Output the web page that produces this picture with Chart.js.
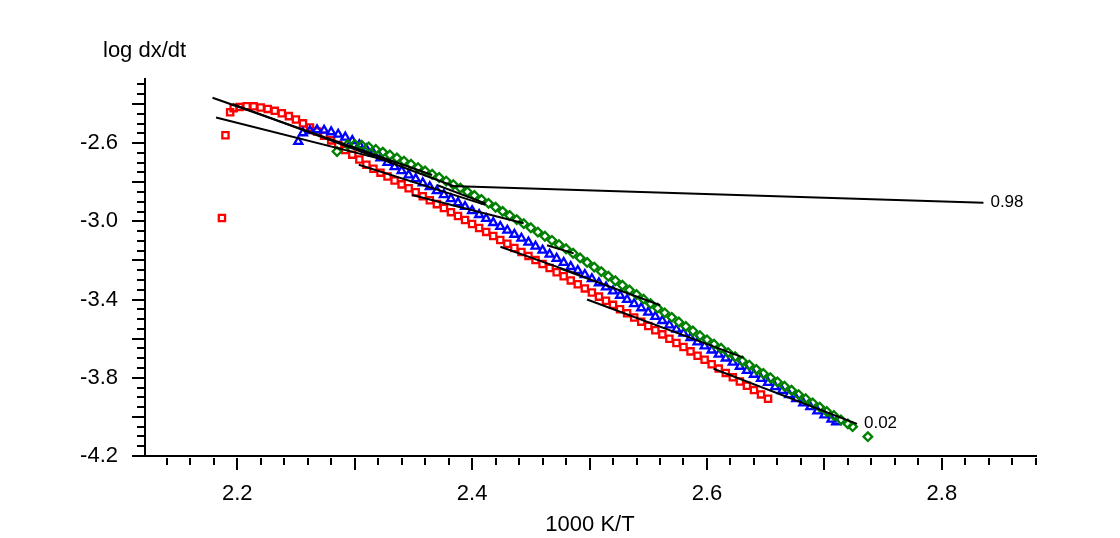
<!DOCTYPE html>
<html>
  <head>
    <title>Friedman Plot</title>
    <script src="https://cdn.jsdelivr.net/npm/chart.js"></script>
    <style>
      body { margin: 0; background: #fff; }
      #wrap { width: 1120px; height: 538px; }
    </style>
  </head>
  <body>
    <div id="wrap"><canvas id="plot"></canvas></div>

    <script>
      // red squares
      var redX = [2.187, 2.190, 2.194, 2.197, 2.202, 2.208, 2.214, 2.220, 2.226, 2.232, 2.238, 2.244, 2.250, 2.256, 2.262, 2.268, 2.274, 2.280, 2.286, 2.292, 2.298, 2.304, 2.310, 2.316, 2.322, 2.328, 2.334, 2.340, 2.346, 2.352, 2.358, 2.364, 2.370, 2.376, 2.382, 2.388, 2.394, 2.400, 2.406, 2.412, 2.418, 2.424, 2.430, 2.436, 2.442, 2.448, 2.454, 2.460, 2.466, 2.472, 2.478, 2.484, 2.490, 2.496, 2.502, 2.508, 2.514, 2.520, 2.526, 2.532, 2.538, 2.544, 2.550, 2.556, 2.562, 2.568, 2.574, 2.580, 2.586, 2.592, 2.598, 2.604, 2.610, 2.616, 2.622, 2.628, 2.634, 2.640, 2.646, 2.652];
      var redY = [-2.983, -2.560, -2.442, -2.421, -2.415, -2.411, -2.412, -2.418, -2.425, -2.435, -2.447, -2.462, -2.479, -2.499, -2.520, -2.541, -2.562, -2.586, -2.610, -2.635, -2.659, -2.684, -2.711, -2.731, -2.751, -2.771, -2.791, -2.811, -2.831, -2.851, -2.872, -2.892, -2.912, -2.932, -2.953, -2.973, -2.993, -3.014, -3.034, -3.054, -3.075, -3.095, -3.115, -3.136, -3.157, -3.177, -3.198, -3.218, -3.239, -3.260, -3.281, -3.302, -3.322, -3.343, -3.364, -3.385, -3.406, -3.427, -3.449, -3.470, -3.492, -3.513, -3.535, -3.557, -3.578, -3.600, -3.622, -3.643, -3.665, -3.687, -3.708, -3.731, -3.753, -3.775, -3.797, -3.819, -3.841, -3.863, -3.885, -3.907];

      // blue triangles
      var blueX = [2.252, 2.256, 2.262, 2.268, 2.274, 2.280, 2.286, 2.292, 2.298, 2.304, 2.310, 2.316, 2.322, 2.328, 2.334, 2.340, 2.346, 2.352, 2.358, 2.364, 2.370, 2.376, 2.382, 2.388, 2.394, 2.400, 2.406, 2.412, 2.418, 2.424, 2.430, 2.436, 2.442, 2.448, 2.454, 2.460, 2.466, 2.472, 2.478, 2.484, 2.490, 2.496, 2.502, 2.508, 2.514, 2.520, 2.526, 2.532, 2.538, 2.544, 2.550, 2.556, 2.562, 2.568, 2.574, 2.580, 2.586, 2.592, 2.598, 2.604, 2.610, 2.616, 2.622, 2.628, 2.634, 2.640, 2.646, 2.652, 2.658, 2.664, 2.670, 2.676, 2.682, 2.688, 2.694, 2.700, 2.706, 2.710];
      var blueY = [-2.592, -2.548, -2.537, -2.532, -2.535, -2.543, -2.555, -2.570, -2.588, -2.609, -2.631, -2.653, -2.676, -2.699, -2.721, -2.742, -2.763, -2.783, -2.804, -2.824, -2.844, -2.864, -2.885, -2.905, -2.925, -2.946, -2.966, -2.986, -3.007, -3.027, -3.046, -3.067, -3.087, -3.107, -3.128, -3.148, -3.169, -3.190, -3.211, -3.232, -3.252, -3.273, -3.294, -3.315, -3.336, -3.357, -3.379, -3.400, -3.422, -3.443, -3.465, -3.487, -3.508, -3.530, -3.552, -3.573, -3.595, -3.617, -3.638, -3.659, -3.680, -3.700, -3.721, -3.742, -3.763, -3.783, -3.804, -3.825, -3.846, -3.866, -3.887, -3.908, -3.929, -3.949, -3.970, -3.991, -4.012, -4.026];

      // green diamonds
      var greenX = [2.285, 2.294, 2.300, 2.306, 2.312, 2.318, 2.324, 2.330, 2.336, 2.342, 2.348, 2.354, 2.360, 2.366, 2.372, 2.378, 2.384, 2.390, 2.396, 2.402, 2.408, 2.414, 2.420, 2.426, 2.432, 2.438, 2.444, 2.450, 2.456, 2.462, 2.468, 2.474, 2.480, 2.486, 2.492, 2.498, 2.504, 2.510, 2.516, 2.522, 2.528, 2.534, 2.540, 2.546, 2.552, 2.558, 2.564, 2.570, 2.576, 2.582, 2.588, 2.594, 2.600, 2.606, 2.612, 2.618, 2.624, 2.630, 2.636, 2.642, 2.648, 2.654, 2.660, 2.666, 2.672, 2.678, 2.684, 2.690, 2.696, 2.702, 2.708, 2.714, 2.720, 2.724, 2.737];
      var greenY = [-2.643, -2.607, -2.607, -2.611, -2.620, -2.632, -2.646, -2.661, -2.676, -2.692, -2.708, -2.725, -2.742, -2.759, -2.776, -2.794, -2.812, -2.830, -2.849, -2.868, -2.888, -2.908, -2.928, -2.949, -2.970, -2.991, -3.012, -3.033, -3.055, -3.076, -3.097, -3.119, -3.140, -3.163, -3.187, -3.210, -3.234, -3.257, -3.281, -3.304, -3.327, -3.351, -3.374, -3.398, -3.421, -3.444, -3.468, -3.491, -3.515, -3.538, -3.561, -3.585, -3.606, -3.628, -3.649, -3.671, -3.692, -3.714, -3.735, -3.757, -3.778, -3.800, -3.821, -3.843, -3.864, -3.886, -3.907, -3.929, -3.950, -3.972, -3.993, -4.015, -4.036, -4.050, -4.101];

      // isoconversional fit lines: [start, end]
      var fitX = [[2.179, 2.366], [2.182, 2.332], [2.3815, 2.8354], [2.196, 2.3841], [2.3035, 2.4113], [2.370, 2.4113], [2.3489, 2.4439], [2.4241, 2.4922], [2.4638, 2.4865], [2.4751, 2.5602], [2.4979, 2.6311], [2.6056, 2.7277]];
      var fitY = [[-2.368, -2.763], [-2.469, -2.696], [-2.819, -2.9046], [-2.399, -2.819], [-2.711, -2.916], [-2.814, -2.908], [-2.865, -3.010], [-3.130, -3.275], [-3.122, -3.164], [-3.241, -3.429], [-3.400, -3.697], [-3.754, -4.036]];
      var fitLabels = ['', '', '0.98', '', '', '', '', '', '', '', '', '0.02'];

      var xTicks = [2.2, 2.4, 2.6, 2.8];
      var yTicks = [-2.6, -3.0, -3.4, -3.8, -4.2];

      function pts(xs, ys) {
        return xs.map(function (x, i) { return { x: x, y: ys[i] }; });
      }

      var datasets = [];
      fitX.forEach(function (xs, i) {
        datasets.push({
          label: 'fit' + i,
          data: pts(xs, fitY[i]),
          showLine: true,
          borderColor: '#000',
          borderWidth: 2,
          pointRadius: 0,
        });
      });
      datasets.push({
        label: 'green', data: pts(greenX, greenY), pointStyle: 'rectRot',
        pointRadius: 4.3, borderColor: '#008000', backgroundColor: 'rgba(0,0,0,0)', borderWidth: 2.3,
      });
      datasets.push({
        label: 'blue', data: pts(blueX, blueY), pointStyle: 'triangle',
        pointRadius: 4.6, borderColor: '#0000ff', backgroundColor: 'rgba(0,0,0,0)', borderWidth: 2.3,
      });
      datasets.push({
        label: 'red', data: pts(redX, redY), pointStyle: 'rect',
        pointRadius: 4.4, borderColor: '#ff0000', backgroundColor: 'rgba(0,0,0,0)', borderWidth: 2.3,
      });

      // axis lines, tick marks, titles and line labels
      var decor = {
        id: 'decor',
        afterDraw: function (chart) {
          var ctx = chart.ctx;
          var xs = chart.scales.x, ys = chart.scales.y;
          ctx.save();
          ctx.strokeStyle = '#000';
          ctx.lineWidth = 2;
          ctx.beginPath();
          ctx.moveTo(xs.left, ys.top);
          ctx.lineTo(xs.left, ys.bottom);
          ctx.lineTo(xs.right, ys.bottom);
          ctx.stroke();
          ctx.beginPath();
          for (var i = 107; i <= 144; i++) {
            var px = Math.round(xs.getPixelForValue(i / 50));
            ctx.moveTo(px, ys.bottom + 2);
            ctx.lineTo(px, ys.bottom + (i % 5 === 0 ? 14 : 9));
          }
          for (var j = -84; j <= -46; j++) {
            var py = Math.round(ys.getPixelForValue(j / 20));
            ctx.moveTo(xs.left, py);
            ctx.lineTo(xs.left - (j % 4 === 0 ? 13 : 8), py);
          }
          ctx.stroke();

          ctx.fillStyle = '#000';
          ctx.font = '22px "Liberation Sans", Arial, sans-serif';
          ctx.textAlign = 'center';
          ctx.textBaseline = 'alphabetic';
          ctx.fillText('1000 K/T', (xs.left + xs.right) / 2 - 1, 531);
          ctx.textAlign = 'left';
          ctx.fillText('log dx/dt', 103, 57);

          ctx.font = '17px "Liberation Sans", Arial, sans-serif';
          fitLabels.forEach(function (t, k) {
            if (!t) return;
            var ex = xs.getPixelForValue(fitX[k][1]);
            var ey = ys.getPixelForValue(fitY[k][1]);
            ctx.fillText(t, ex + 7, ey + 4);
          });
          ctx.restore();
        },
      };

      var ctx = document.getElementById('plot').getContext('2d');
      var plot = new Chart(ctx, {
        type: 'scatter',
        data: { datasets: datasets },
        options: {
          responsive: true,
          maintainAspectRatio: false,
          animation: false,
          events: [],
          layout: { padding: { left: 0, right: 83, top: 78, bottom: 0 } },
          plugins: { legend: { display: false }, tooltip: { enabled: false } },
          scales: {
            x: {
              type: 'linear',
              min: 2.1215,
              max: 2.881,
              grid: { display: false, drawTicks: false },
              border: { display: false },
              afterBuildTicks: function (s) { s.ticks = xTicks.map(function (v) { return { value: v }; }); },
              afterFit: function (s) { s.height = 82; },
              ticks: {
                padding: 25,
                color: '#000',
                font: { family: '"Liberation Sans", Arial, sans-serif', size: 22 },
                callback: function (v) { return v.toFixed(1); },
              },
            },
            y: {
              type: 'linear',
              min: -4.2,
              max: -2.267,
              grid: { display: false, drawTicks: false },
              border: { display: false },
              afterBuildTicks: function (s) { s.ticks = yTicks.map(function (v) { return { value: v }; }); },
              afterFit: function (s) { s.width = 145; },
              ticks: {
                padding: 27,
                color: '#000',
                font: { family: '"Liberation Sans", Arial, sans-serif', size: 22 },
                callback: function (v) { return v.toFixed(1); },
              },
            },
          },
        },
        plugins: [decor],
      });
    </script>
  </body>
</html>
